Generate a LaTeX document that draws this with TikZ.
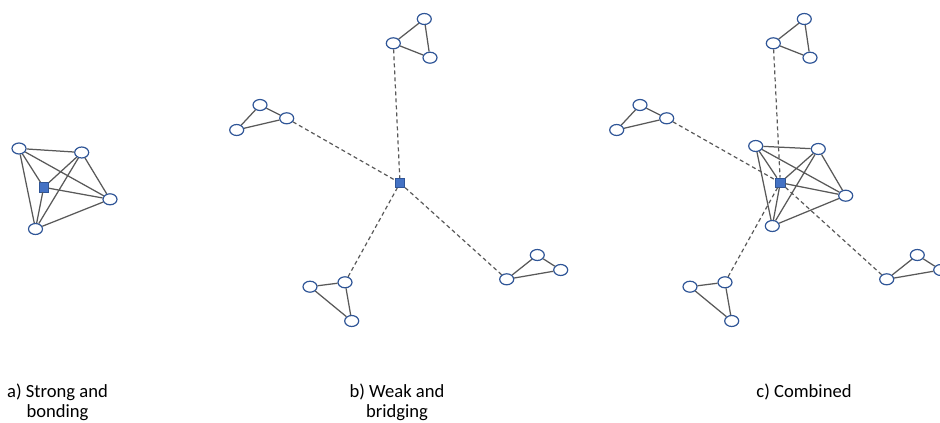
\documentclass[tikz,border=0pt]{standalone}
\usepackage{fontspec}
\setmainfont{Carlito}
\usetikzlibrary{shapes.geometric}
\definecolor{nodeblue}{HTML}{2F5597}
\definecolor{sqfill}{HTML}{4472C4}
\definecolor{edgegray}{HTML}{595959}
\tikzset{
  member/.style={ellipse, draw=nodeblue, line width=1.2pt, fill=white, inner sep=0pt, minimum width=14pt, minimum height=11pt},
  hub/.style={rectangle, draw=nodeblue, fill=sqfill, line width=0.6pt, inner sep=0pt, minimum size=9.5pt},
  tie/.style={draw=edgegray, line width=1.25pt},
  weak/.style={draw=edgegray, line width=1.2pt, dash pattern=on 4pt off 3pt},
  caption/.style={align=center, font=\fontsize{18.6}{20}\selectfont, inner sep=0pt, anchor=base}
}
\begin{document}
\begin{tikzpicture}[x=1pt,y=-1pt]
\useasboundingbox (0,0) rectangle (940,423);
% ---------- panel a ----------
\node[hub] (sa) at (43.7,187.3) {};
\node[member] (a1) at (19,148.5) {};
\node[member] (a2) at (81.7,152.5) {};
\node[member] (a3) at (110,199.3) {};
\node[member] (a4) at (35.5,229) {};
\draw[tie] (a1) -- (a2) (a1) -- (a3) (a1) -- (a4) (a1) -- (sa)
  (a2) -- (a3) (a2) -- (a4) (a2) -- (sa)
  (a3) -- (a4) (a3) -- (sa) (a4) -- (sa);
% ---------- panel b ----------
\node[hub] (sb) at (400,183) {};
\node[member] (bt1) at (393.3,43.3) {};
\node[member] (bt2) at (424.3,19) {};
\node[member] (bt3) at (430,57.7) {};
\node[member] (bl1) at (260,105) {};
\node[member] (bl2) at (286.7,118.3) {};
\node[member] (bl3) at (236.7,130) {};
\node[member] (bb1) at (310,286.7) {};
\node[member] (bb2) at (345,282.3) {};
\node[member] (bb3) at (351.7,321) {};
\node[member] (br1) at (506.7,279.3) {};
\node[member] (br2) at (537.3,255) {};
\node[member] (br3) at (560.7,270) {};
\draw[tie] (bt1) -- (bt2) -- (bt3) -- (bt1);
\draw[tie] (bl1) -- (bl2) -- (bl3) -- (bl1);
\draw[tie] (bb1) -- (bb2) -- (bb3) -- (bb1);
\draw[tie] (br1) -- (br2) -- (br3) -- (br1);
\draw[weak] (bt1) -- (sb);
\draw[weak] (bl2) -- (sb);
\draw[weak] (bb2) -- (sb);
\draw[weak] (br1) -- (sb);
% ---------- panel c ----------
\node[hub] (sc) at (780.3,182.7) {};
\node[member] (c1) at (755.7,146) {};
\node[member] (c2) at (818.3,149) {};
\node[member] (c3) at (845.7,195.7) {};
\node[member] (c4) at (772.3,226) {};
\node[member] (ct1) at (773.3,43.3) {};
\node[member] (ct2) at (804.3,19) {};
\node[member] (ct3) at (810,57.7) {};
\node[member] (cl1) at (640,105) {};
\node[member] (cl2) at (666.7,118.3) {};
\node[member] (cl3) at (616.7,130) {};
\node[member] (cb1) at (690,286.7) {};
\node[member] (cb2) at (725,282.3) {};
\node[member] (cb3) at (731.7,321) {};
\node[member] (cr1) at (886.7,279.3) {};
\node[member] (cr2) at (917.3,255) {};
\node[member] (cr3) at (940.7,270) {};
\draw[tie] (c1) -- (c2) (c1) -- (c3) (c1) -- (c4) (c1) -- (sc)
  (c2) -- (c3) (c2) -- (c4) (c2) -- (sc)
  (c3) -- (c4) (c3) -- (sc) (c4) -- (sc);
\draw[tie] (ct1) -- (ct2) -- (ct3) -- (ct1);
\draw[tie] (cl1) -- (cl2) -- (cl3) -- (cl1);
\draw[tie] (cb1) -- (cb2) -- (cb3) -- (cb1);
\draw[tie] (cr1) -- (cr2) -- (cr3) -- (cr1);
\draw[weak] (ct1) -- (sc);
\draw[weak] (cl2) -- (sc);
\draw[weak] (cb2) -- (sc);
\draw[weak] (cr1) -- (sc);
% ---------- captions ----------
\node[caption] (capa) at (57.5,417) {a) Strong and\\bonding};
\node[caption] (capb) at (397,417) {b) Weak and\\bridging};
\node[caption] (capc) at (804,397) {c) Combined};
\end{tikzpicture}
\end{document}
